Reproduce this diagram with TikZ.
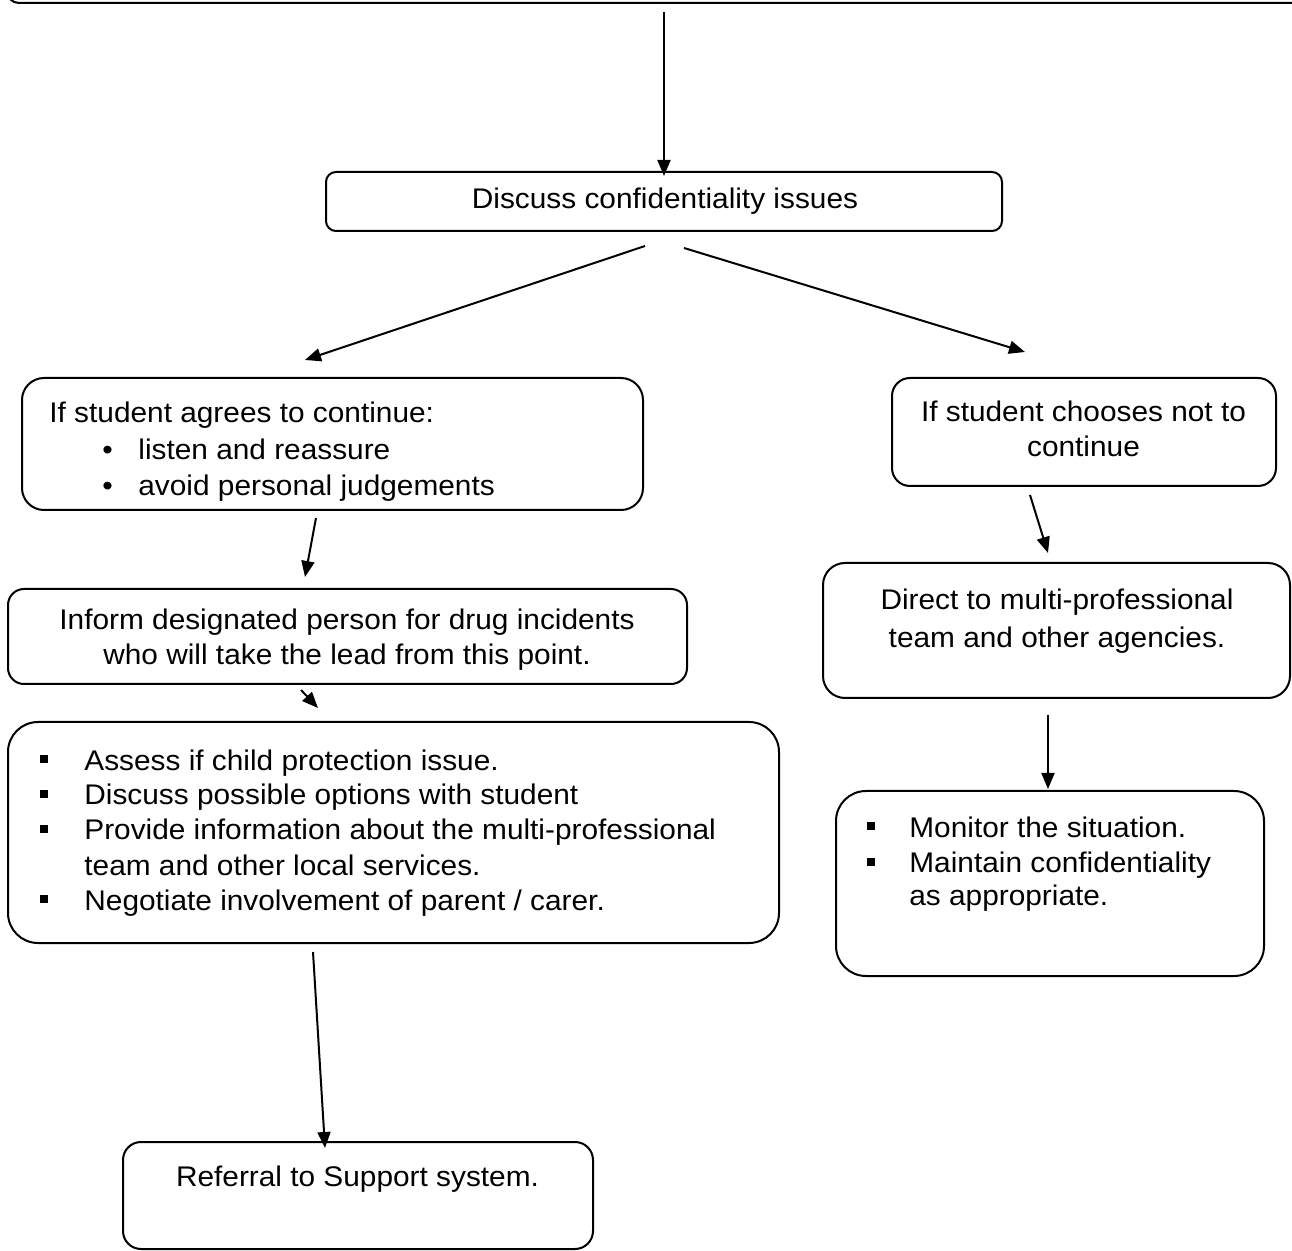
\documentclass[tikz,border=0pt]{standalone}
\usepackage{fontspec}
\setmainfont[FakeStretch=1.05]{Liberation Sans}
\usetikzlibrary{arrows.meta}
\begin{document}
\begin{tikzpicture}[x=0.5pt,y=-0.5pt,
  box/.style={draw,line width=1pt,rounded corners=#1,inner sep=0pt},
  arr/.style={line width=1pt,-{Triangle[length=8pt,width=6.5pt]}},
  txt/.style={inner sep=0pt,anchor=base,font=\fontsize{14.2pt}{17pt}\selectfont},
  ltxt/.style={txt,anchor=base west},
  sq/.style={fill=black,inner sep=0pt,minimum size=4pt},
  dot/.style={txt,anchor=base west}]
\useasboundingbox (0,0) rectangle (1292,1251);
\begin{scope}
\clip (0,0) rectangle (1292,1251);
\node[box=6pt,minimum width=650pt,minimum height=53pt] (top) at (657,-50) {};
\end{scope}
% boxes
\node[box=5pt,minimum width=338pt,minimum height=29.5pt] (discuss) at (664,201.5) {};
\node[box=11pt,minimum width=310.5pt,minimum height=66pt] (agrees) at (332.5,444) {};
\node[box=9pt,minimum width=192pt,minimum height=54pt] (chooses) at (1084,432) {};
\node[box=8pt,minimum width=339.5pt,minimum height=47.5pt] (inform) at (347.5,636.5) {};
\node[box=11pt,minimum width=233.5pt,minimum height=67.5pt] (direct) at (1056.5,630.5) {};
\node[box=15pt,minimum width=385.5pt,minimum height=110.5pt] (assess) at (393.5,832.5) {};
\node[box=15pt,minimum width=214pt,minimum height=92.5pt] (monitor) at (1050,883.5) {};
\node[box=9pt,minimum width=235pt,minimum height=53.5pt] (referral) at (358,1195.5) {};
% texts
\node[txt] (tdiscuss) at (665,209) {Discuss confidentiality issues};
\node[ltxt] (tagrees) at (49,423) {If student agrees to continue:};
\node[dot] (b1) at (102,460) {•};
\node[ltxt] (tagrees1) at (138,460) {listen and reassure};
\node[dot] (b2) at (102,496) {•};
\node[ltxt] (tagrees2) at (138,496) {avoid personal judgements};
\node[txt] (tchoose1) at (1083.5,422) {If student chooses not to};
\node[txt] (tchoose2) at (1083.5,457) {continue};
\node[txt] (tinform1) at (347,630) {Inform designated person for drug incidents};
\node[txt] (tinform2) at (347,665) {who will take the lead from this point.};
\node[txt] (tdirect1) at (1057,610) {Direct to multi-professional};
\node[txt] (tdirect2) at (1057,648) {team and other agencies.};
\node[sq] (s1) at (43.5,759) {};
\node[ltxt] (tassess1) at (84,770) {Assess if child protection issue.};
\node[sq] (s2) at (43.5,794) {};
\node[ltxt] (tassess2) at (84,805) {Discuss possible options with student};
\node[sq] (s3) at (43.5,829) {};
\node[ltxt] (tassess3) at (84,840) {Provide information about the multi-professional};
\node[ltxt] (tassess4) at (84,875) {team and other local services.};
\node[sq] (s4) at (43.5,899) {};
\node[ltxt] (tassess5) at (84,910) {Negotiate involvement of parent / carer.};
\node[sq] (s5) at (871,826) {};
\node[ltxt] (tmon1) at (909,837) {Monitor the situation.};
\node[sq] (s6) at (871,862) {};
\node[ltxt] (tmon2) at (909,872) {Maintain confidentiality};
\node[ltxt] (tmon3) at (909,906) {as appropriate.};
\node[txt] (tref) at (357.5,1186) {Referral to Support system.};
% connector ends
\coordinate (a1s) at (664,12);   \coordinate (a1e) at (664,176);
\coordinate (a2s) at (645,246);  \coordinate (a2e) at (305,360);
\coordinate (a3s) at (684,248);  \coordinate (a3e) at (1025,352);
\coordinate (a4s) at (316,518);  \coordinate (a4e) at (305,577);
\coordinate (a5s) at (301,690);  \coordinate (a5e) at (318,708);
\coordinate (a6s) at (1030,495); \coordinate (a6e) at (1048,553);
\coordinate (a7s) at (1048,715); \coordinate (a7e) at (1048,789);
\coordinate (a8s) at (313,952);  \coordinate (a8e) at (325,1148);
\foreach \i in {1,...,8} {\draw[arr] (a\i s) -- (a\i e);}
\end{tikzpicture}
\end{document}
